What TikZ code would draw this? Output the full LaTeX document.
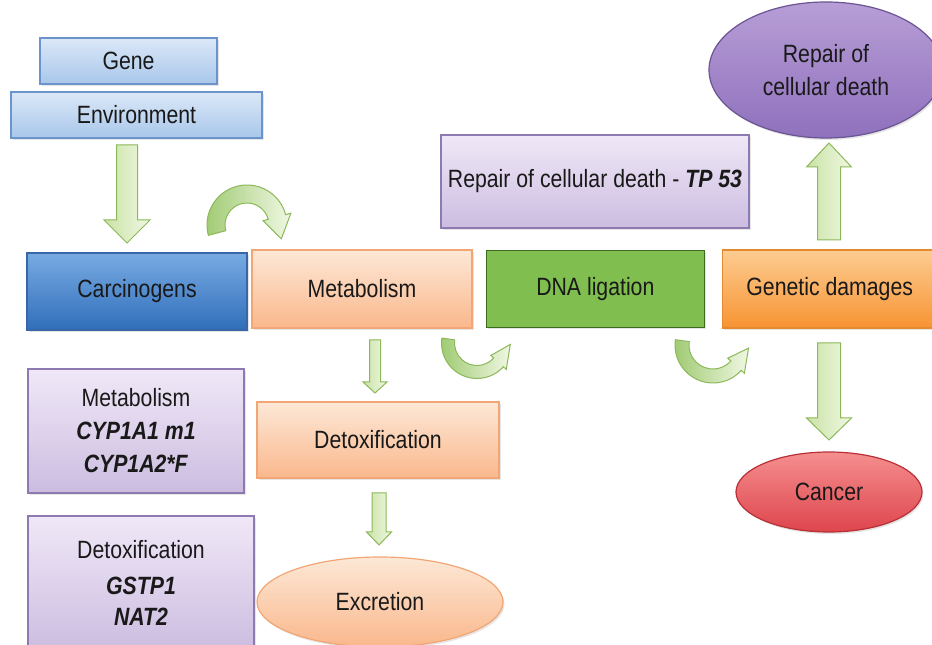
\documentclass[tikz,border=0pt]{standalone}
\usepackage{fontspec}
\setmainfont{Liberation Sans}[FakeStretch=0.85]
\usetikzlibrary{shapes.geometric,positioning,shadows}
\tikzset{
ashadow/.style={opacity=.2, shadow xshift=1.5pt, shadow yshift=-2pt},
}
\definecolor{ClbTop}{rgb}{0.86,0.91,0.97}
\definecolor{ClbBot}{rgb}{0.66,0.78,0.92}
\definecolor{ClbLine}{rgb}{0.42,0.58,0.80}
\definecolor{CdbTop}{rgb}{0.47,0.67,0.89}
\definecolor{CdbBot}{rgb}{0.19,0.43,0.73}
\definecolor{CdbLine}{rgb}{0.22,0.40,0.65}
\definecolor{CpeTop}{rgb}{0.99,0.91,0.84}
\definecolor{CpeBot}{rgb}{0.98,0.72,0.55}
\definecolor{CpeLine}{rgb}{0.95,0.65,0.46}
\definecolor{CgrFill}{rgb}{0.50,0.75,0.31}
\definecolor{CgrLine}{rgb}{0.24,0.42,0.12}
\definecolor{CorTop}{rgb}{0.99,0.80,0.57}
\definecolor{CorBot}{rgb}{0.97,0.58,0.20}
\definecolor{CorLine}{rgb}{0.90,0.54,0.18}
\definecolor{CliTop}{rgb}{0.94,0.91,0.97}
\definecolor{CliBot}{rgb}{0.80,0.74,0.88}
\definecolor{CliLine}{rgb}{0.55,0.48,0.69}
\definecolor{CviTop}{rgb}{0.72,0.62,0.84}
\definecolor{CviBot}{rgb}{0.56,0.44,0.74}
\definecolor{CviLine}{rgb}{0.42,0.33,0.58}
\definecolor{CreTop}{rgb}{0.96,0.56,0.56}
\definecolor{CreBot}{rgb}{0.87,0.27,0.30}
\definecolor{CreLine}{rgb}{0.72,0.19,0.21}
\definecolor{CarA}{rgb}{0.94,0.97,0.89}
\definecolor{CarB}{rgb}{0.79,0.89,0.65}
\definecolor{CarC}{rgb}{0.62,0.79,0.44}
\definecolor{CarLine}{rgb}{0.55,0.72,0.35}
\tikzset{myxshift/.style = {shift = {(#1, 0)}}}
\tikzset{myyshift/.style = {shift = {(0, #1)}}}
\tikzset{
txt/.style={font=\fontsize{25}{33}\selectfont, text=black!90, align=center, inner sep=0pt},
bluebox/.style={txt, rectangle, draw=ClbLine, line width=1.2pt, top color=ClbTop, bottom color=ClbBot, drop shadow={ashadow}},
darkbox/.style={txt, rectangle, draw=CdbLine, line width=1.2pt, top color=CdbTop, bottom color=CdbBot, drop shadow={ashadow}},
peachbox/.style={txt, rectangle, draw=CpeLine, line width=1.2pt, top color=CpeTop, bottom color=CpeBot, drop shadow={ashadow}},
greenbox/.style={txt, rectangle, draw=CgrLine, line width=1.5pt, fill=CgrFill, drop shadow={ashadow}},
orangebox/.style={txt, rectangle, draw=CorLine, line width=1.2pt, top color=CorTop, bottom color=CorBot, drop shadow={ashadow}},
lilacbox/.style={txt, rectangle, draw=CliLine, line width=1.2pt, top color=CliTop, bottom color=CliBot, drop shadow={ashadow}},
violetoval/.style={txt, ellipse, draw=CviLine, line width=1.2pt, top color=CviTop, bottom color=CviBot, drop shadow={ashadow}},
redoval/.style={txt, ellipse, draw=CreLine, line width=1.2pt, top color=CreTop, bottom color=CreBot, drop shadow={ashadow}},
peachoval/.style={txt, ellipse, draw=CpeLine, line width=1.2pt, top color=CpeTop, bottom color=CpeBot, drop shadow={ashadow}},
}
\newcommand\gn[1]{\textbf{\textit{#1}}}

\begin{document}
\begin{tikzpicture}[x=1pt, y=1pt]
\path[use as bounding box, fill=white] (0,0) rectangle (932,645);
\begin{scope}

%% Definitions
\newcommand\vertarrow[6]
{
% posX: #1
% tail y: #2
% shaft width: #3
% head width: #4
% head base y: #5
% tip y: #6
(#1 - #3/2, #2)
--
(#1 - #3/2, #5)
--
(#1 - #4/2, #5)
--
(#1, #6)
--
(#1 + #4/2, #5)
--
(#1 + #3/2, #5)
--
(#1 + #3/2, #2)
-- cycle
}
%%
\newcommand\bendarrow[6]
{
% radius: #1
% thickness: #2
% start angle: #3
% end angle: #4
% sign: #5
% head length: #6
(#3:#1+#2/2)
arc
(#3:#4:#1+#2/2)
--
(#4:#1+#2*0.8)
--
({#4+(#5)*#6/#1*57.3}:#1+#2/3)
--
(#4:#1-#2*0.8)
--
(#4:#1-#2/2)
arc
(#4:#3:#1-#2/2)
-- cycle
}
%%
\newcommand\drawVarrow[6]
{
\draw[draw=CarLine, line width=1pt, left color=CarB, right color=CarA] \vertarrow{#1}{#2}{#3}{#4}{#5}{#6};
};
%%
\newcommand\drawBarrow[8]
{
\draw[draw=CarLine, line width=1pt, left color=CarC, right color=CarA, myxshift=#7, myyshift=#8] \bendarrow{#1}{#2}{#3}{#4}{#5}{#6};
};

% --------------------------------------------------------

%% top left
\node[bluebox, minimum width=177pt, minimum height=46pt] (gene) at (128.5,584) {Gene};
\node[bluebox, minimum width=251pt, minimum height=46pt] (env) at (136.5,530) {Environment};

%% main row
\node[darkbox, minimum width=220pt, minimum height=77pt] (carc) at (137,353.5) {Carcinogens};
\node[peachbox, minimum width=220pt, minimum height=78pt] (metab) at (362,356) {Metabolism};
\node[greenbox, minimum width=218pt, minimum height=77pt, right=13pt of metab] (dna) {DNA ligation};
\node[orangebox, minimum width=214pt, minimum height=78pt, right=17pt of dna] (gen) {Genetic damages};

%% repair
\node[lilacbox, minimum width=308pt, minimum height=93pt] (tp) at (595,463.5) {Repair of cellular death - \gn{TP 53}};
\node[violetoval, minimum width=234pt, minimum height=136pt] (repair) at (826,575) {Repair of\\cellular death};
\node[redoval, minimum width=186pt, minimum height=80pt] (cancer) at (829,153) {Cancer};

%% lower part
\node[lilacbox, minimum width=216pt, minimum height=124pt] (metgenes) at (136,214) {Metabolism\\\gn{CYP1A1 m1}\\\gn{CYP1A2*F}};
\node[peachbox, minimum width=242pt, minimum height=76pt] (detox) at (378,205) {Detoxification};
\node[lilacbox, minimum width=226pt, minimum height=134pt, font=\fontsize{25}{31}\selectfont] (detgenes) at (141,62) {Detoxification\\[5pt]\gn{GSTP1}\\\gn{NAT2}};
\node[peachoval, minimum width=246pt, minimum height=90pt] (excr) at (380,43) {Excretion};

% --------------------------------------------------------

%% straight arrows
\drawVarrow{127}{500}{21}{46}{425}{402};
\drawVarrow{829}{405}{23}{45}{478}{502};
\drawVarrow{829}{302}{23}{45}{227}{205};
\drawVarrow{375}{305}{11}{24}{263}{252};
\drawVarrow{379}{152}{14}{25}{113}{100};

%% bent arrows
\drawBarrow{31}{18}{195}{15}{-1}{20}{247}{420};
\drawBarrow{29}{13}{172}{318}{1}{20}{477}{302};
\drawBarrow{31}{14}{172}{318}{1}{20}{713}{300};

\end{scope}
\end{tikzpicture}
\end{document}
